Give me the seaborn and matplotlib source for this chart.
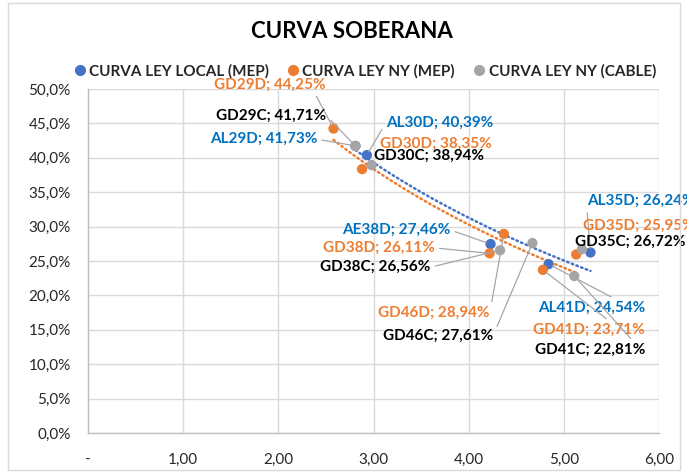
import matplotlib
matplotlib.use("Agg")
import matplotlib.pyplot as plt
import seaborn as sns
import numpy as np
import pandas as pd
from matplotlib.patches import Rectangle

sns.set_theme(style="white")
plt.rcParams['font.family'] = ['Lato', 'DejaVu Sans']

# ---- data ----
series_names = ["CURVA LEY LOCAL (MEP)", "CURVA LEY NY (MEP)", "CURVA LEY NY (CABLE)"]

local_tickers = ["AL29D", "AL30D", "AE38D", "AL35D", "AL41D"]
local_x = [2.81, 2.93, 4.23, 5.28, 4.84]
local_y = [41.73, 40.39, 27.46, 26.24, 24.54]

nymep_tickers = ["GD29D", "GD30D", "GD38D", "GD46D", "GD35D", "GD41D"]
nymep_x = [2.58, 2.88, 4.22, 4.37, 5.13, 4.78]
nymep_y = [44.25, 38.35, 26.11, 28.94, 25.95, 23.71]

cable_tickers = ["GD29C", "GD30C", "GD38C", "GD46C", "GD35C", "GD41C"]
cable_x = [2.81, 2.98, 4.33, 4.67, 5.19, 5.11]
cable_y = [41.71, 38.94, 26.56, 27.61, 26.72, 22.81]

x_ticks = [0, 1, 2, 3, 4, 5, 6]
x_ticklabels = ["-", "1,00", "2,00", "3,00", "4,00", "5,00", "6,00"]
y_ticks = [0, 5, 10, 15, 20, 25, 30, 35, 40, 45, 50]

# label placement (layout, data coords: left x, centre y)
label_pos = {
    "GD29D": (1.32, 50.6), "GD29C": (1.35, 46.1), "AL29D": (1.28, 42.7),
    "AL30D": (3.13, 45.1), "GD30D": (3.07, 42.0), "GD30C": (3.01, 40.3),
    "AE38D": (2.67, 29.5), "GD38D": (2.47, 26.9), "GD38C": (2.44, 24.1),
    "GD46D": (3.05, 17.4), "GD46C": (3.10, 14.2),
    "AL35D": (5.24, 33.7), "GD35D": (5.20, 30.1), "GD35C": (5.12, 27.8),
    "AL41D": (4.73, 18.2), "GD41D": (4.68, 15.0), "GD41C": (4.70, 12.1),
}
leader_anchor = {
    "GD29D": (0.9, 0.0), "GD29C": (1, 0.5), "AL29D": (1, 0.5), "AL30D": (0, 0.5),
    "AE38D": (1, 0.5), "GD38D": (1, 0.5), "GD38C": (1, 0.5),
    "GD46D": (1, 0.5), "GD46C": (1, 0.5),
    "AL35D": (0, 0.2), "GD35C": (0, 0.5),
    "AL41D": (0.75, 1.0), "GD41D": (0.7, 1.0), "GD41C": (0.9, 1.0),
}

colors = ["#4472C4", "#ED7D31", "#A5A5A5"]
label_colors = ["#0070C0", "#ED7D31", "#000000"]

frames = []
for name, tk, xs, ys in zip(series_names,
                            [local_tickers, nymep_tickers, cable_tickers],
                            [local_x, nymep_x, cable_x],
                            [local_y, nymep_y, cable_y]):
    frames.append(pd.DataFrame({"serie": name, "ticker": tk, "dur": xs, "tir": ys}))
df = pd.concat(frames, ignore_index=True)

fig = plt.figure(figsize=(6.87, 4.73), dpi=100)
fig.patches.append(Rectangle((8 / 687, 1 - 470 / 473), (680 - 8) / 687, (470 - 3) / 473,
                             transform=fig.transFigure, fill=False,
                             edgecolor="#D9D9D9", lw=1.0))
ax = fig.add_axes([88 / 687, (473 - 433) / 473, (659 - 88) / 687, (433 - 89) / 473])

# trendlines (logarithmic) for first two series
for name, c in zip(series_names[:2], colors[:2]):
    sub = df[df.serie == name]
    sns.regplot(data=sub, x="dur", y="tir", logx=True, ci=None, scatter=False,
                truncate=True, ax=ax,
                line_kws=dict(color=c, lw=1.8, linestyle=(0, (0.6, 1.4)),
                              dash_capstyle="round", solid_capstyle="round"))

sns.scatterplot(data=df, x="dur", y="tir", hue="serie", palette=colors,
                hue_order=series_names, s=55, edgecolor="none", ax=ax,
                legend=False, zorder=3)

# labels with leaders
for name, tk, xs, ys, lc in zip(series_names,
                                [local_tickers, nymep_tickers, cable_tickers],
                                [local_x, nymep_x, cable_x],
                                [local_y, nymep_y, cable_y], label_colors):
    for t, xv, yv in zip(tk, xs, ys):
        txt = f"{t}; {yv:.2f}%".replace(".", ",")
        lx, ly = label_pos[t]
        kw = {}
        if t in leader_anchor:
            kw["arrowprops"] = dict(arrowstyle="-", color="#A6A6A6", lw=0.9,
                                    relpos=leader_anchor[t], shrinkA=1, shrinkB=3)
        ax.annotate(txt, xy=(xv, yv), xytext=(lx, ly), textcoords="data",
                    ha="left", va="center", fontsize=11, fontweight="bold",
                    color=lc, annotation_clip=False, zorder=4, **kw)

ax.set_xlim(0, 6)
ax.set_ylim(0, 50)
ax.set_xticks(x_ticks)
ax.set_xticklabels(x_ticklabels)
ax.set_yticks(y_ticks)
ax.set_yticklabels([f"{v:.1f}%".replace(".", ",") for v in y_ticks])
ax.tick_params(axis="both", length=0, labelsize=11, colors="#262626")
ax.tick_params(axis="x", pad=14)
ax.tick_params(axis="y", pad=12.5)
ax.set_xlabel("")
ax.set_ylabel("")
ax.grid(True, color="#D9D9D9", lw=1.0)
ax.set_axisbelow(True)
for s in ["top", "right"]:
    ax.spines[s].set_visible(False)
for s in ["left", "bottom"]:
    ax.spines[s].set_color("#BFBFBF")
    ax.spines[s].set_linewidth(1.0)

# title
fig.text(352 / 687, 1 - 32 / 473, "CURVA SOBERANA", ha="center", va="center",
         fontsize=16, fontweight="bold", color="#000000")

# legend
handles = [plt.Line2D([], [], marker="o", ls="", color=c, markersize=7) for c in colors]
fig.legend(handles, series_names, loc="center", bbox_to_anchor=(364 / 687, 1 - 71 / 473),
           ncol=3, frameon=False, handletextpad=0.1, columnspacing=1.1,
           prop=dict(size=11, weight="bold"), borderaxespad=0, handlelength=1.0)

fig.savefig("out.png", dpi=100)
